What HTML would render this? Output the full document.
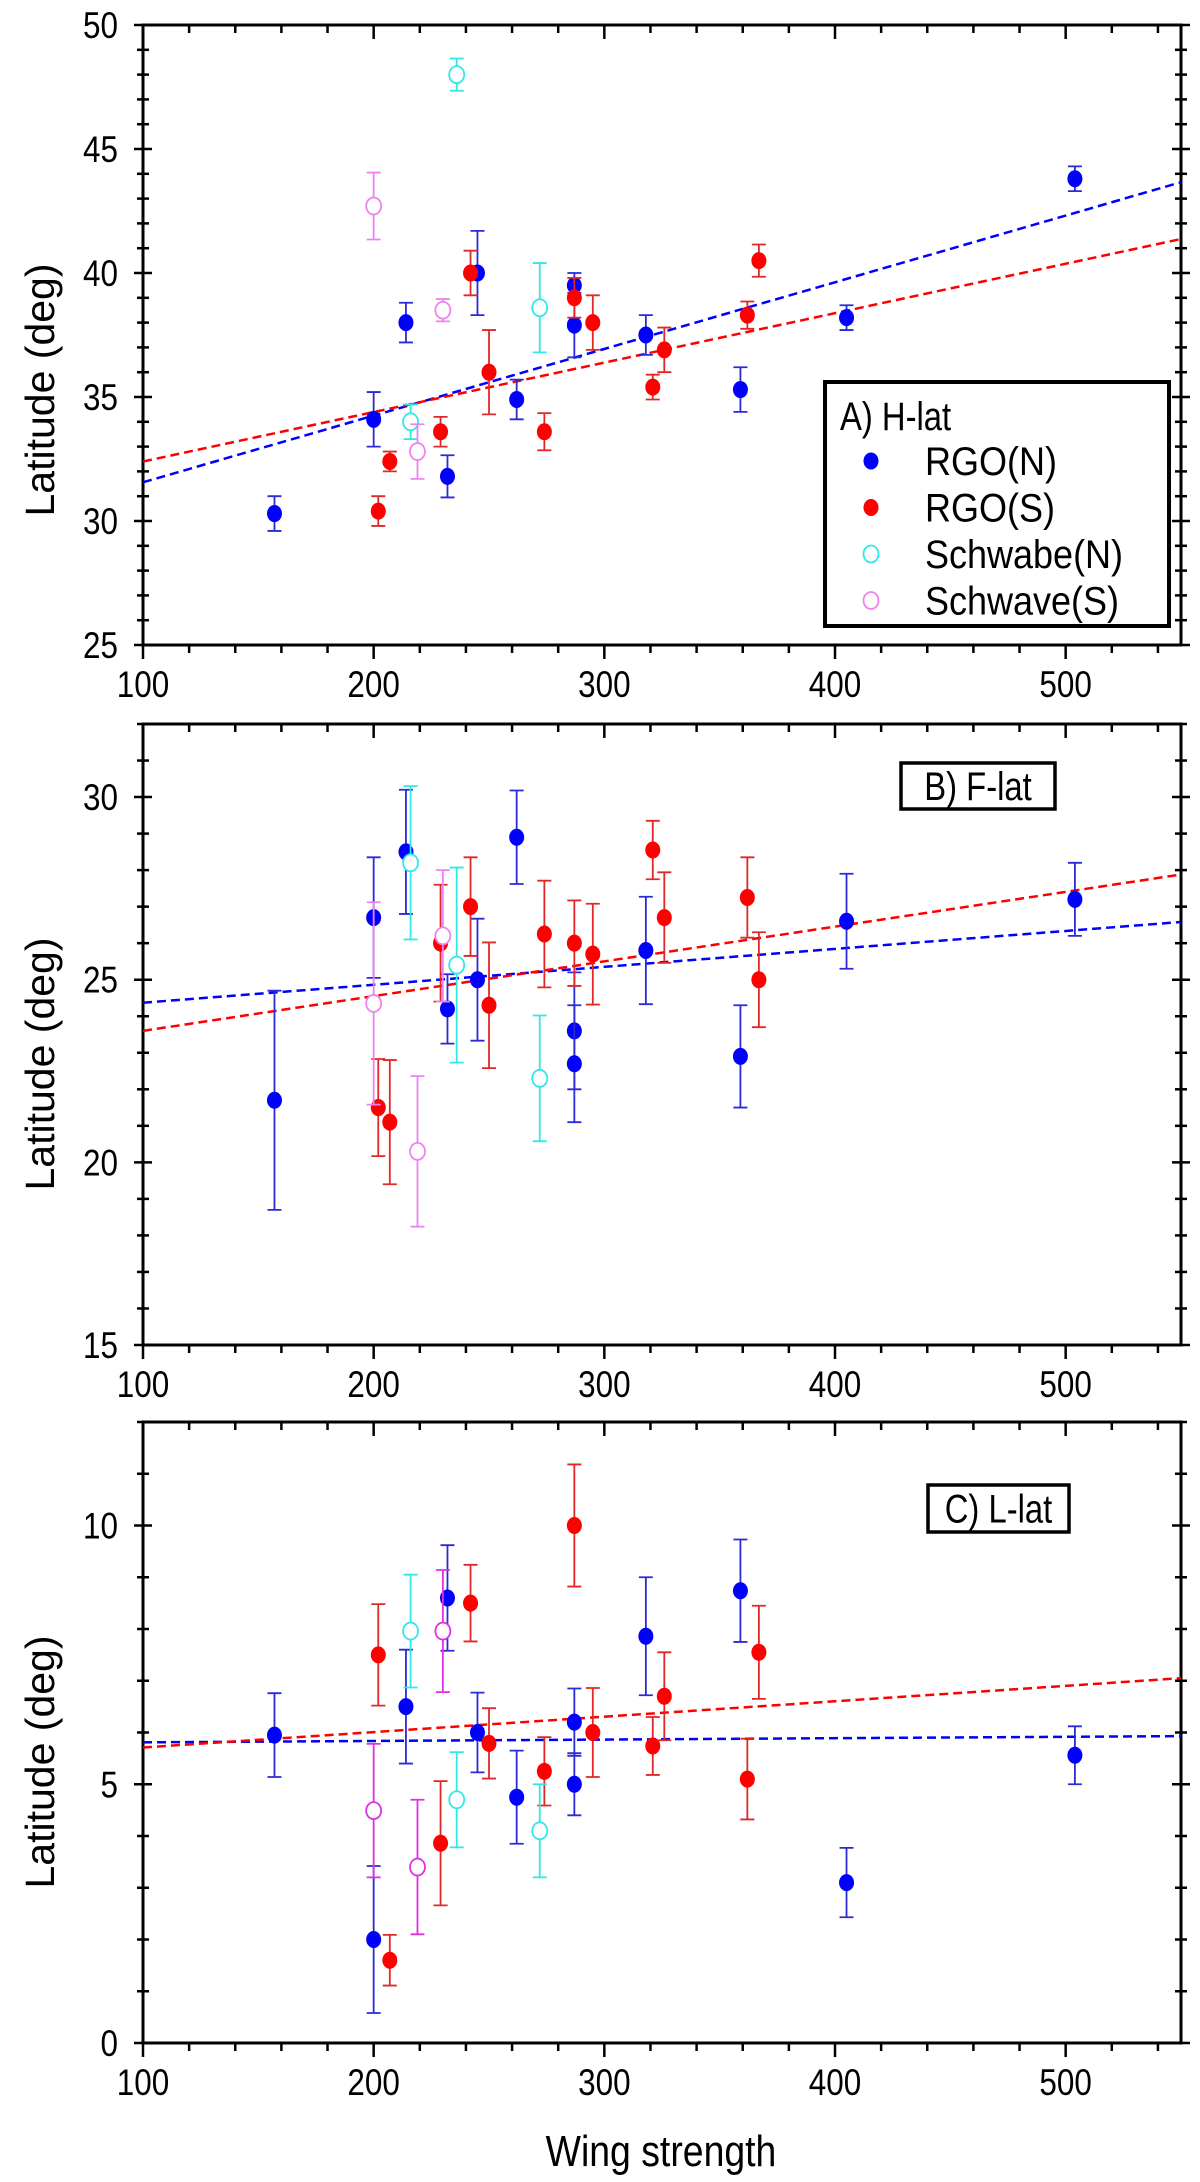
<!DOCTYPE html>
<html><head><meta charset="utf-8">
<style>
html,body{margin:0;padding:0;background:#fff;}
svg{display:block;font-family:"Liberation Sans",Arial,sans-serif;}
</style></head>
<body>
<svg id="chart" width="1200" height="2182" viewBox="0 0 1200 2182" xmlns="http://www.w3.org/2000/svg">
<rect x="0" y="0" width="1200" height="2182" fill="#fff"/>
</svg>
<script>
// ---- data ----
const xTicks = [100, 200, 300, 400, 500];
const xN = [157, 200, 214, 232, 245, 262, 287, 287, 318, 359, 405, 504];
const xS = [202, 207, 229, 242, 250, 274, 287, 295, 321, 326, 362, 367];
const xSchN = [216, 236, 272];
const xSchS = [200, 230, 219];

const aN = [30.3, 34.1, 38.0, 31.8, 40.0, 34.9, 39.5, 37.9, 37.5, 35.3, 38.2, 43.8];
const aNerr = [0.7, 1.1, 0.8, 0.85, 1.7, 0.8, 0.5, 1.3, 0.8, 0.9, 0.5, 0.5];
const aS = [30.4, 32.4, 33.6, 40.0, 36.0, 33.6, 39.0, 38.0, 35.4, 36.9, 38.3, 40.5];
const aSerr = [0.6, 0.4, 0.6, 0.9, 1.7, 0.75, 0.8, 1.1, 0.5, 0.9, 0.55, 0.65];
const aSchN = [34.0, 48.0, 38.6];
const aSchNerr = [0.7, 0.65, 1.8];
const aSchS = [42.7, 38.5, 32.8];
const aSchSerr = [1.35, 0.45, 1.1];
const aFitN = [31.56, 43.66];
const aFitS = [32.4, 41.37];

const bN = [21.7, 26.7, 28.5, 24.2, 25.0, 28.9, 23.6, 22.7, 25.8, 22.9, 26.6, 27.2];
const bNerr = [3.0, 1.65, 1.7, 0.95, 1.67, 1.28, 1.6, 1.6, 1.47, 1.4, 1.3, 1.0];
const bS = [21.5, 21.1, 26.0, 27.0, 24.3, 26.25, 26.0, 25.7, 28.55, 26.7, 27.25, 25.0];
const bSerr = [1.33, 1.7, 1.6, 1.35, 1.72, 1.46, 1.17, 1.38, 0.8, 1.24, 1.1, 1.3];
const bSchN = [28.2, 25.4, 22.3];
const bSchNerr = [2.1, 2.67, 1.72];
const bSchS = [24.35, 26.2, 20.3];
const bSchSerr = [2.77, 1.8, 2.06];
const bFitN = [24.37, 26.58];
const bFitS = [23.6, 27.88];

const cN = [5.95, 2.0, 6.5, 8.6, 6.0, 4.75, 6.2, 5.0, 7.86, 8.74, 3.1, 5.56];
const cNerr = [0.81, 1.42, 1.1, 1.02, 0.77, 0.9, 0.65, 0.6, 1.14, 0.99, 0.67, 0.56];
const cS = [7.5, 1.6, 3.86, 8.5, 5.79, 5.25, 10.0, 6.0, 5.74, 6.7, 5.1, 7.55];
const cSerr = [0.98, 0.49, 1.2, 0.74, 0.68, 0.66, 1.18, 0.86, 0.56, 0.85, 0.78, 0.9];
const cSchN = [7.96, 4.7, 4.1];
const cSchNerr = [1.09, 0.92, 0.9];
const cSchS = [4.49, 7.96, 3.4];
const cSchSerr = [1.29, 1.18, 1.3];
const cFitN = [5.81, 5.93];
const cFitS = [5.71, 7.05];

const yTicksA = [25, 30, 35, 40, 45, 50];
const yTicksB = [15, 20, 25, 30];
const yTicksC = [0, 5, 10];

// ---- layout ----
const NS = "http://www.w3.org/2000/svg";
const svg = document.getElementById('chart');
const X0 = 143, X1 = 1181, XMIN = 100, XMAX = 550;
function xs(v){ return X0 + (v - XMIN) / (XMAX - XMIN) * (X1 - X0); }
function mk(tag, attrs, parent){
  const e = document.createElementNS(NS, tag);
  for (const k in attrs) e.setAttribute(k, attrs[k]);
  (parent || svg).appendChild(e);
  return e;
}
// condensed text helper
function ctext(parent, x, y, str, size, anchor, sx){
  const t = mk('text', {x: 0, y: 0, 'text-anchor': anchor, 'font-size': size, transform: `translate(${x} ${y}) scale(${sx} 1)`}, parent);
  t.textContent = str;
  return t;
}
const BLUE = '#0000ff', BLUEBAR = '#2a2ad6', RED = '#ff0000', REDBAR = '#e02828', CYAN = '#30e8e8';

function panel(p){
  const g = mk('g', {});
  
  
  const ys = v => p.bottom - (v - p.ymin) / (p.ymax - p.ymin) * (p.bottom - p.top);
  const cid = p.name + '-clip';
  const cp = mk('clipPath', {id: cid}, g);
  mk('rect', {x: X0, y: p.top, width: X1 - X0, height: p.bottom - p.top}, cp);
  const axes = mk('g', {stroke: '#000', 'stroke-width': 2.5}, g);
  
  
  for (let v = XMIN; v <= XMAX; v += 20) {
    const x = xs(v), major = (v % 100 === 0);
    mk('line', {x1: x, x2: x, y1: p.bottom, y2: p.bottom + (major ? 14 : 8)}, axes);
    mk('line', {x1: x, x2: x, y1: p.top, y2: p.top + (major ? 14 : 8)}, axes);
  }
  for (let v = p.ymin; v <= p.ymax; v += 1) {
    const y = ys(v), major = (v % 5 === 0);
    const L = major ? 9 : 6;
    mk('line', {x1: X0 - L, x2: X0 + L, y1: y, y2: y}, axes);
    mk('line', {x1: X1 - L, x2: X1 + L, y1: y, y2: y}, axes);
  }
  mk('rect', {x: X0, y: p.top, width: X1 - X0, height: p.bottom - p.top, fill: 'none', 'stroke-width': 3}, axes);
  xTicks.forEach(v => {
    const t = ctext(g, xs(v), p.bottom + 52, String(v), 37, 'middle', 0.85);
    
    
  });
  p.yTicks.forEach(v => {
    const t = ctext(g, 118, ys(v) + 13, String(v), 37, 'end', 0.85);
    
    
  });
  const yt = mk('text', {x: 0, y: 0, 'text-anchor': 'middle', 'font-size': 41, transform: `translate(54 ${p.titleY}) rotate(-90)`}, g);
  yt.textContent = 'Latitude (deg)';
  
  
  const plot = mk('g', {'clip-path': `url(#${cid})`}, g);
  [[p.fitN, BLUE, 'fit-line-north'], [p.fitS, RED, 'fit-line-south']].forEach(([f, c, n]) => {
    const l = mk('line', {x1: xs(XMIN), y1: ys(f[0]), x2: xs(XMAX), y2: ys(f[1]), stroke: c, 'stroke-width': 2.5, 'stroke-dasharray': '9 5'}, plot);
    
    
  });
  p.series.forEach(s => {
    const sg = mk('g', {}, plot);
    
    
    s.x.forEach((xv, i) => {
      const cx = xs(xv), cy = ys(s.y[i]);
      const yTop = ys(s.y[i] + s.e[i]), yBot = ys(s.y[i] - s.e[i]);
      const eb = mk('path', {d: `M${cx},${yTop}V${yBot}M${cx-7},${yTop}h14M${cx-7},${yBot}h14`, stroke: s.bar, 'stroke-width': 1.8, fill: 'none'}, sg);
      
      
      const m = mk('ellipse', {cx: cx, cy: cy, rx: 7.5, ry: 8.5, fill: s.open ? '#fff' : s.color, stroke: s.color, 'stroke-width': s.open ? 1.8 : 0}, sg);
      
      
    });
  });
  if (p.box) {
    const b = p.box;
    const bx = mk('rect', {x: b.x, y: b.y, width: b.w, height: b.h, fill: '#fff', stroke: '#000', 'stroke-width': 3.5}, g);
    
    
    const t = ctext(g, b.x + b.w / 2, b.y + b.h / 2 + 14, b.text, 40, 'middle', 0.82);
    
    
  }
  return g;
}

const serA = [
  {name: 'series-rgo-n', x: xN, y: aN, e: aNerr, color: BLUE, bar: BLUEBAR},
  {name: 'series-rgo-s', x: xS, y: aS, e: aSerr, color: RED, bar: REDBAR},
  {name: 'series-schwabe-n', x: xSchN, y: aSchN, e: aSchNerr, color: CYAN, bar: CYAN, open: true},
  {name: 'series-schwabe-s', x: xSchS, y: aSchS, e: aSchSerr, color: '#ee82ee', bar: '#ee82ee', open: true}
];
const serB = [
  {name: 'series-rgo-n', x: xN, y: bN, e: bNerr, color: BLUE, bar: BLUEBAR},
  {name: 'series-rgo-s', x: xS, y: bS, e: bSerr, color: RED, bar: REDBAR},
  {name: 'series-schwabe-n', x: xSchN, y: bSchN, e: bSchNerr, color: CYAN, bar: CYAN, open: true},
  {name: 'series-schwabe-s', x: xSchS, y: bSchS, e: bSchSerr, color: '#ee82ee', bar: '#ee82ee', open: true}
];
const serC = [
  {name: 'series-rgo-n', x: xN, y: cN, e: cNerr, color: BLUE, bar: BLUEBAR},
  {name: 'series-rgo-s', x: xS, y: cS, e: cSerr, color: RED, bar: REDBAR},
  {name: 'series-schwabe-n', x: xSchN, y: cSchN, e: cSchNerr, color: CYAN, bar: CYAN, open: true},
  {name: 'series-schwabe-s', x: xSchS, y: cSchS, e: cSchSerr, color: '#e030e0', bar: '#e030e0', open: true}
];

panel({name: 'panel-a-h-lat', top: 25, bottom: 645, ymin: 25, ymax: 50, yTicks: yTicksA, titleY: 390, fitN: aFitN, fitS: aFitS, series: serA});
panel({name: 'panel-b-f-lat', top: 724, bottom: 1345, ymin: 15, ymax: 32, yTicks: yTicksB, titleY: 1064, fitN: bFitN, fitS: bFitS, series: serB,
  box: {x: 901, y: 763, w: 154, h: 46, text: 'B) F-lat'}});
panel({name: 'panel-c-l-lat', top: 1422, bottom: 2043, ymin: 0, ymax: 12, yTicks: yTicksC, titleY: 1762, fitN: cFitN, fitS: cFitS, series: serC,
  box: {x: 928, y: 1485, w: 141, h: 47, text: 'C) L-lat'}});

const lg = mk('g', {});


mk('rect', {x: 825, y: 382, width: 344, height: 244, fill: '#fff', stroke: '#000', 'stroke-width': 4}, lg);
const lt = ctext(lg, 840, 430, 'A) H-lat', 40, 'start', 0.82);


const legNames = ['RGO(N)', 'RGO(S)', 'Schwabe(N)', 'Schwave(S)'];
const legColors = [BLUE, RED, CYAN, '#ee82ee'];
const legOpen = [false, false, true, true];
legNames.forEach((n, i) => {
  const y = 461 + i * 46.5;
  const e = mk('g', {}, lg);
  
  
  mk('ellipse', {cx: 871, cy: y, rx: 7.5, ry: 8.5, fill: legOpen[i] ? '#fff' : legColors[i], stroke: legColors[i], 'stroke-width': legOpen[i] ? 1.8 : 0}, e);
  ctext(e, 925, y + 14, n, 40, 'start', 0.9);
});

const xt = ctext(svg, 661, 2166, 'Wing strength', 44, 'middle', 0.85);


</script>
</body></html>
